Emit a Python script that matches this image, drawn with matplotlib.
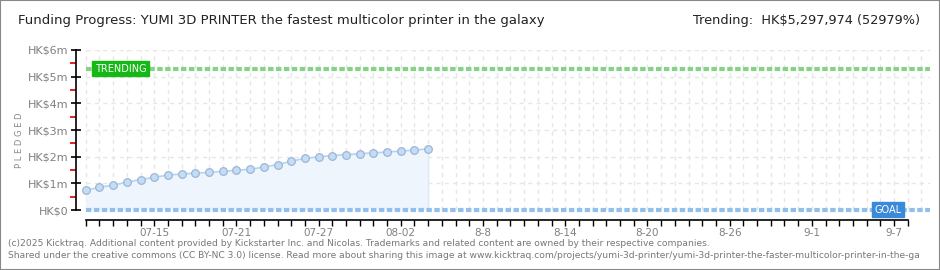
import matplotlib
matplotlib.use("Agg")
import matplotlib.pyplot as plt
from matplotlib.patches import Rectangle
import numpy as np

# ---- data ----
start_date = "07-10"
n_days_axis = 60                      # 07-10 .. 09-08
pledged_m = [0.74, 0.85, 0.935, 1.04, 1.14, 1.225, 1.31, 1.35, 1.385, 1.41,
             1.45, 1.49, 1.525, 1.61, 1.70, 1.825, 1.94, 1.99, 2.04, 2.075,
             2.11, 2.14, 2.175, 2.21, 2.25, 2.29]
trending_value = 5297974
goal_value = 10000
xtick_days = [5, 11, 17, 23, 29, 35, 41, 47, 53, 59]
xtick_labels = ["07-15", "07-21", "07-27", "08-02", "8-8", "8-14", "8-20",
                "8-26", "9-1", "9-7"]
ytick_vals = [0, 1, 2, 3, 4, 5, 6]
ytick_labels = ["HK$0", "HK$1m", "HK$2m", "HK$3m", "HK$4m", "HK$5m", "HK$6m"]
title = "Funding Progress: YUMI 3D PRINTER the fastest multicolor printer in the galaxy"
trend_text = "Trending:  HK$5,297,974 (52979%)"
footer1 = ("(c)2025 Kicktraq. Additional content provided by Kickstarter Inc. and Nicolas. "
           "Trademarks and related content are owned by their respective companies.")
footer2 = ("Shared under the creative commons (CC BY-NC 3.0) license. Read more about sharing this "
           "image at www.kicktraq.com/projects/yumi-3d-printer/yumi-3d-printer-the-faster-"
           "multicolor-printer-in-the-ga")

W, H = 940, 270
fig = plt.figure(figsize=(W / 100, H / 100), dpi=100)
fig.patch.set_facecolor("white")
# border
fig.add_artist(Rectangle((0, 0), 1, 1, transform=fig.transFigure, fill=False,
                         edgecolor="#888888", linewidth=1.5))

px_day = 13.7
x_left_px, x_right_px = 76, 930
y_top_px, y_bot_px = 50, 220
xmin = -(85.7 - x_left_px) / px_day
xmax = xmin + (x_right_px - x_left_px) / px_day
px_m = 26.67
ymax = 6.0
ymin = -(y_bot_px - 210) / px_m

ax = fig.add_axes([x_left_px / W, (H - y_bot_px) / H,
                   (x_right_px - x_left_px) / W, (y_bot_px - y_top_px) / H])
ax.set_xlim(xmin, xmax)
ax.set_ylim(ymin, ymax)
ax.set_facecolor("white")
ax.patch.set_alpha(0)

# grid
for d in range(0, n_days_axis + 2):
    ax.plot([d, d], [0, ymax], color="#e6e6e6", lw=1, ls=(0, (3, 3)), zorder=0)
for v in ytick_vals[1:]:
    ax.plot([0, xmax], [v, v], color="#e6e6e6", lw=1, ls=(0, (3, 3)), zorder=0)

days = np.arange(len(pledged_m))
y = np.array(pledged_m)
ax.fill_between(days, 0, y, color="#eef5fd", zorder=1, lw=0)
ax.plot([days[-1], days[-1]], [0, y[-1]], color="#dde9f7", lw=1, zorder=1)
ax.plot(days, y, color="#b5d3f3", lw=1.2, zorder=2)
ax.plot(days, y, ls="none", marker="o", ms=5.5, mfc="#c4dcf6", mec="#9cb6d4",
        mew=0.9, zorder=3)

# trending / goal lines
tv = trending_value / 1e6
gv = goal_value / 1e6
ax.plot([0, xmax], [tv, tv], color="#86d286", lw=3, ls=(0, (1.3, 0.6)), zorder=2,
        dash_capstyle="butt")
ax.plot([0, xmax], [gv, gv], color="#93bfec", lw=3, ls=(0, (1.3, 0.6)), zorder=2,
        dash_capstyle="butt")

ax.text(0.65, tv, "TRENDING", fontsize=7, color="white", va="center", ha="left",
        family="DejaVu Sans", zorder=5,
        bbox=dict(boxstyle="square,pad=0.25", fc="#16b816", ec="#16b816"))
ax.text(57.6, gv, "GOAL", fontsize=7, color="white", va="center", ha="left",
        family="DejaVu Sans", zorder=5,
        bbox=dict(boxstyle="square,pad=0.25", fc="#3b89d9", ec="#3b89d9"))

# spines
for s in ["top", "right"]:
    ax.spines[s].set_visible(False)
ax.spines["left"].set_bounds(0, ymax)
ax.spines["bottom"].set_bounds(0, n_days_axis)
ax.spines["left"].set_color("black")
ax.spines["bottom"].set_color("black")
ax.spines["left"].set_linewidth(1.2)
ax.spines["bottom"].set_linewidth(1.2)

ax.set_yticks(ytick_vals)
ax.set_yticklabels(ytick_labels)
ax.set_yticks([0.5, 1.5, 2.5, 3.5, 4.5, 5.5], minor=True)
ax.tick_params(axis="y", which="major", direction="inout", length=7, width=1.2,
               color="black", labelsize=8, labelcolor="#808080", pad=2)
ax.tick_params(axis="y", which="minor", direction="out", length=4, width=1.2,
               color="#dd0000")
ax.set_xticks(range(0, n_days_axis + 1), minor=True)
ax.set_xticks(xtick_days)
ax.set_xticklabels(xtick_labels)
ax.tick_params(axis="x", which="both", direction="out", length=4, width=1,
               color="black", labelsize=7.5, labelcolor="#808080", pad=2)
for lab in ax.get_xticklabels() + ax.get_yticklabels():
    lab.set_family("DejaVu Sans")

fig.text(20 / W, 1 - 140 / H, "P L E D G E D", rotation=90, fontsize=6,
         color="#888888", ha="center", va="center")

fig.text(18 / W, 1 - 21 / H, title, fontsize=9.5, color="#222222", ha="left",
         va="center")
fig.text(920 / W, 1 - 21 / H, trend_text, fontsize=9.3, color="#222222",
         ha="right", va="center")

fig.text(8 / W, 1 - 243 / H, footer1, fontsize=6.6, color="#777777", ha="left",
         va="center")
fig.text(8 / W, 1 - 255 / H, footer2, fontsize=6.6, color="#777777", ha="left",
         va="center")

fig.savefig("out.png", dpi=100)
